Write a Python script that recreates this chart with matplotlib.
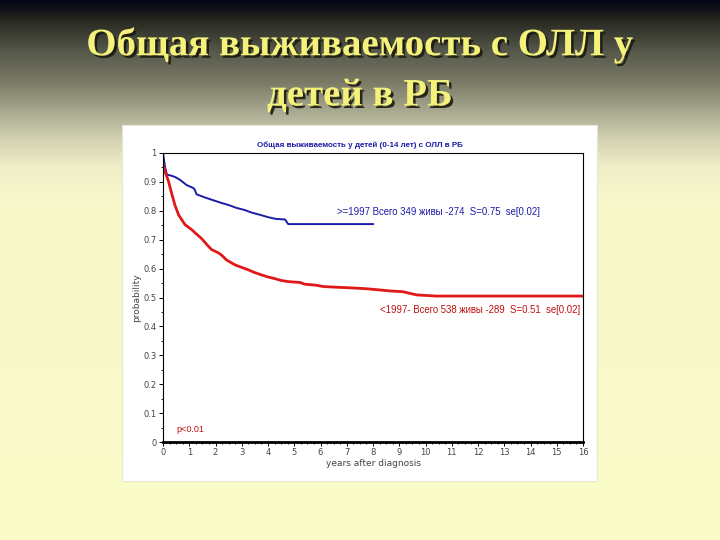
import numpy as np
import matplotlib
matplotlib.use("Agg")
import matplotlib.pyplot as plt
import matplotlib.patheffects as pe
from matplotlib.patches import Rectangle
from matplotlib.ticker import MultipleLocator

# ---- data ----
blue_t = [0, 0.08, 0.15, 0.3, 0.46, 0.65, 0.9, 1.15, 1.2, 1.28, 1.6, 2.0, 2.23, 2.5, 2.8, 3.1,
          3.37, 3.7, 4.0, 4.3, 4.65, 4.77, 8.0]
blue_s = [1.0, 0.95, 0.925, 0.922, 0.917, 0.907, 0.889, 0.879, 0.875, 0.857, 0.846, 0.834, 0.827,
          0.82, 0.81, 0.803, 0.794, 0.786, 0.778, 0.772, 0.77, 0.754, 0.754]
red_t = [0, 0.1, 0.2, 0.33, 0.46, 0.6, 0.84, 1.09, 1.22, 1.47, 1.7, 1.85, 2.1, 2.23, 2.42, 2.74,
         3.0, 3.24, 3.5, 3.76, 4.0, 4.27, 4.5, 4.77, 5.22, 5.4, 5.8, 6.1, 6.5, 7.24, 7.8, 8.27,
         8.6, 9.14, 9.66, 10.4, 15.95]
red_s = [0.96, 0.93, 0.905, 0.86, 0.818, 0.785, 0.752, 0.735, 0.724, 0.704, 0.68, 0.666, 0.655,
         0.647, 0.63, 0.613, 0.604, 0.596, 0.586, 0.578, 0.571, 0.565, 0.559, 0.555, 0.552, 0.546,
         0.543, 0.538, 0.536, 0.533, 0.53, 0.526, 0.523, 0.52, 0.509, 0.505, 0.505]
x_ticks = list(range(0, 17))
y_ticks = [0, 0.1, 0.2, 0.3, 0.4, 0.5, 0.6, 0.7, 0.8, 0.9, 1]
y_ticklabels = ["0", "0.1", "0.2", "0.3", "0.4", "0.5", "0.6", "0.7", "0.8", "0.9", "1"]

slide_title_1 = "Общая выживаемость с ОЛЛ у"
slide_title_2 = "детей в РБ"
chart_title = "Общая выживаемость у детей (0-14 лет) с ОЛЛ в РБ"
blue_label = ">=1997 Всего 349 живы -274  S=0.75  se[0.02]"
red_label = "<1997- Всего 538 живы -289  S=0.51  se[0.02]"
p_label = "p<0.01"

fig = plt.figure(figsize=(7.2, 5.4), dpi=100)

# background gradient
bg = fig.add_axes([0, 0, 1, 1], zorder=-10)
ys = np.arange(540)
stops_y = [0, 10, 20, 50, 83, 110, 140, 167, 200, 540]
stops_c = np.array([[5, 5, 24], [20, 20, 25], [40, 40, 32], [85, 87, 74], [124, 124, 104],
                    [168, 168, 144], [212, 212, 180], [238, 238, 200], [248, 248, 204], [250, 252, 200]]) / 255.0
grad = np.stack([np.interp(ys, stops_y, stops_c[:, k]) for k in range(3)], axis=-1)
img = np.repeat(grad[:, None, :], 2, axis=1)
bg.imshow(img, aspect="auto", extent=[0, 1, 0, 1], origin="upper")
bg.set_axis_off()

# slide title with shadow
shadow = [pe.withSimplePatchShadow(offset=(1.8, -1.8), shadow_rgbFace="#1a1a10", alpha=0.9)]
for txt, yc in [(slide_title_1, 45), (slide_title_2, 96)]:
    fig.text(0.5, 1 - yc / 540, txt, ha="center", va="center",
             fontsize=28, family="Liberation Serif", fontweight="bold", color="#f4f27a",
             path_effects=shadow)

# white chart box
fig.patches.append(Rectangle((122 / 720, 1 - 481 / 540), 475 / 720, 356 / 540,
                             transform=fig.transFigure, facecolor="white", edgecolor="#e8e8d0",
                             lw=0.8, zorder=-5))

ax = fig.add_axes([163 / 720, 1 - 442 / 540, 420 / 720, 289 / 540])
ax.set_facecolor("none")
ax.plot(blue_t, blue_s, color="#1c1ca8", lw=1.4)
ax.plot(red_t, red_s, color="#e01818", lw=2.0)
ax.set_xlim(0, 16)
ax.set_ylim(0, 1)
ax.set_xticks(x_ticks)
ax.set_yticks(y_ticks)
ax.set_yticklabels(y_ticklabels)
ax.xaxis.set_minor_locator(MultipleLocator(0.25))
ax.yaxis.set_minor_locator(MultipleLocator(0.05))
ax.tick_params(which="major", length=3, width=0.7, labelsize=6, labelcolor="#444444", pad=1.5)
ax.tick_params(which="minor", length=1.5, width=0.6)
for s in ["top", "right", "left"]:
    ax.spines[s].set_linewidth(0.8)
ax.spines["bottom"].set_linewidth(2)
ax.set_xlabel("years after diagnosis", fontsize=6.5, color="#444444", labelpad=1)
ax.set_ylabel("probability", fontsize=6.5, color="#444444", labelpad=2)

fig.text(360 / 720, 1 - 145 / 540, chart_title, ha="center", va="center", fontsize=5.8,
         family="Liberation Sans", fontweight="bold", color="#1c1ca8")
fig.text(337 / 720, 1 - 212 / 540, blue_label, ha="left", va="center", fontsize=6.9,
         family="Liberation Sans", color="#1c1ca8")
fig.text(580 / 720, 1 - 310 / 540, red_label, ha="right", va="center", fontsize=6.9,
         family="Liberation Sans", color="#c01010")
fig.text(176 / 720, 1 - 430 / 540, p_label, ha="left", va="center", fontsize=6.5,
         family="Liberation Sans", color="#c01010")

fig.savefig("out.png", dpi=100)
